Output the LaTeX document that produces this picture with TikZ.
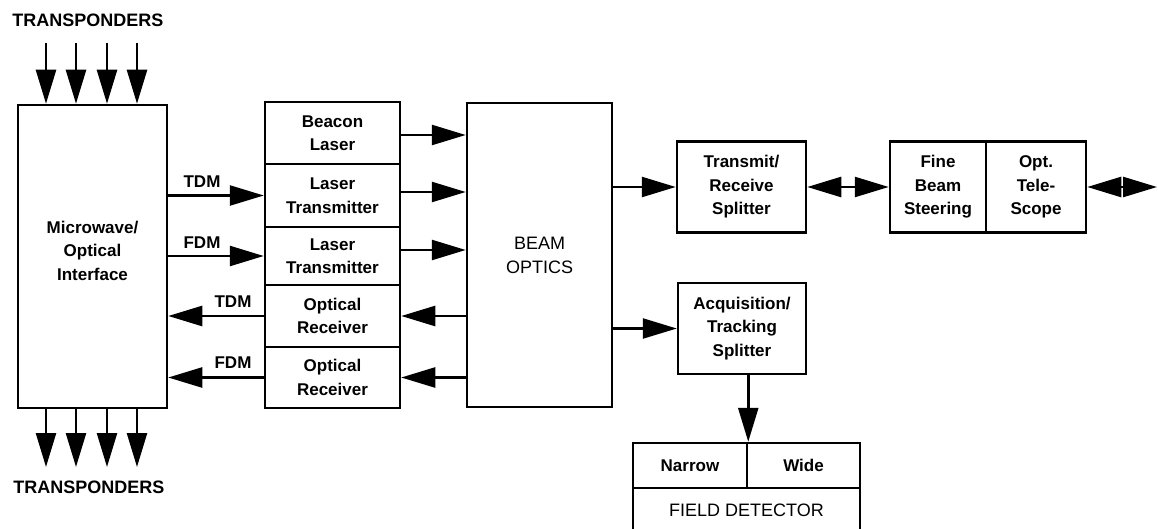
\documentclass[tikz,border=0pt]{standalone}
\usepackage{fontspec}
\setmainfont{Liberation Sans}
\usetikzlibrary{arrows.meta}
\begin{document}
\begin{tikzpicture}[x=1pt,y=-1pt,
  box/.style={draw,line width=2.5pt,inner sep=0pt,align=center,
              font=\bfseries\fontsize{17}{23.5}\selectfont},
  arr/.style={line width=2.5pt,-{Triangle[length=34pt,width=20pt]}},
  darr/.style={line width=2.5pt,{Triangle[length=34pt,width=20pt]}-{Triangle[length=34pt,width=20pt]}},
  lbl/.style={inner sep=0pt,align=center,font=\bfseries\fontsize{17}{23.5}\selectfont},
  capsb/.style={inner sep=0pt,font=\bfseries\fontsize{18}{22}\selectfont}]
\useasboundingbox (0,0) rectangle (1158,529);

% Microwave / optical interface
\node[box,minimum width=149pt,minimum height=303pt] (mw) at (92.5,256.5) {};
\node[lbl] (mwt) at (92.5,250.5) {Microwave/\\Optical\\Interface};

% transponders
\node[capsb] (tpt) at (88,20) {TRANSPONDERS};
\node[capsb] (tpb) at (89,487) {TRANSPONDERS};
\foreach \i/\x in {1/46,2/76,3/107,4/137}{
  \coordinate (ti\i) at (\x,43);
  \coordinate (bi\i) at (\x,467);
  \draw[arr] (ti\i) -- (ti\i |- mw.north);
  \draw[arr] (bi\i |- mw.south) -- (bi\i);
}

% stack
\node[box,minimum width=135pt,minimum height=62pt] (bc)  at (332.5,133)   {Beacon\\Laser};
\node[box,minimum width=135pt,minimum height=63pt] (lt1) at (332.5,195.5) {Laser\\Transmitter};
\node[box,minimum width=135pt,minimum height=58pt] (lt2) at (332.5,256)   {Laser\\Transmitter};
\node[box,minimum width=135pt,minimum height=62pt] (or1) at (332.5,316)   {Optical\\Receiver};
\node[box,minimum width=135pt,minimum height=61pt] (or2) at (332.5,377.5) {Optical\\Receiver};

% beam optics
\node[box,minimum width=145pt,minimum height=304pt,
      font=\fontsize{18}{24}\selectfont] (bo) at (539.5,255) {BEAM\\OPTICS};

% interface <-> stack
\draw[arr] (mw.east |- lt1.west) -- (lt1.west);
\draw[arr] (mw.east |- lt2.west) -- (lt2.west);
\draw[arr] (or1.west) -- (or1.west -| mw.east);
\draw[arr] (or2.west) -- (or2.west -| mw.east);
\node[lbl] (l1) at (202,182) {TDM};
\node[lbl] (l2) at (202,243) {FDM};
\node[lbl] (l3) at (233,302) {TDM};
\node[lbl] (l4) at (233,363) {FDM};

% stack <-> beam optics
\coordinate (s1) at ([yshift=-2pt]bc.east);
\coordinate (s2) at ([yshift=3.5pt]lt1.east);
\coordinate (s3) at ([yshift=6pt]lt2.east);
\draw[arr] (s1) -- (s1 -| bo.west);
\draw[arr] (s2) -- (s2 -| bo.west);
\draw[arr] (s3) -- (s3 -| bo.west);
\draw[arr] (bo.west |- or1.east) -- (or1.east);
\draw[arr] (bo.west |- or2.east) -- (or2.east);

% right part
\node[box,minimum width=129pt,minimum height=91pt] (tr)  at (741.5,187) {Transmit/\\Receive\\Splitter};
\node[box,minimum width=96pt,minimum height=91pt]  (fb)  at (938,187)   {Fine\\Beam\\Steering};
\node[box,minimum width=100pt,minimum height=91pt] (tel) at (1036,187)  {Opt.\\Tele-\\Scope};
\node[box,minimum width=128pt,minimum height=91pt] (acq) at (742,328.5) {Acquisition/\\Tracking\\Splitter};

\draw[arr] (bo.east |- tr.west) -- (tr.west);
\draw[arr] (bo.east |- acq.west) -- (acq.west);
\draw[darr] (tr.east) -- (fb.west);
\coordinate (rend) at (1157,187);
\draw[darr] (tel.east) -- (rend);

% field detector
\node[box,minimum width=114pt,minimum height=45pt] (nar) at (690,465.5) {Narrow};
\node[box,minimum width=113pt,minimum height=45pt] (wid) at (803.5,465.5) {Wide};
\node[box,minimum width=227pt,minimum height=44pt,
      font=\fontsize{18}{24}\selectfont] (fd) at (746.5,510) {FIELD DETECTOR};
\draw[arr] (acq.south -| nar.east) -- (nar.north east);
\end{tikzpicture}
\end{document}
